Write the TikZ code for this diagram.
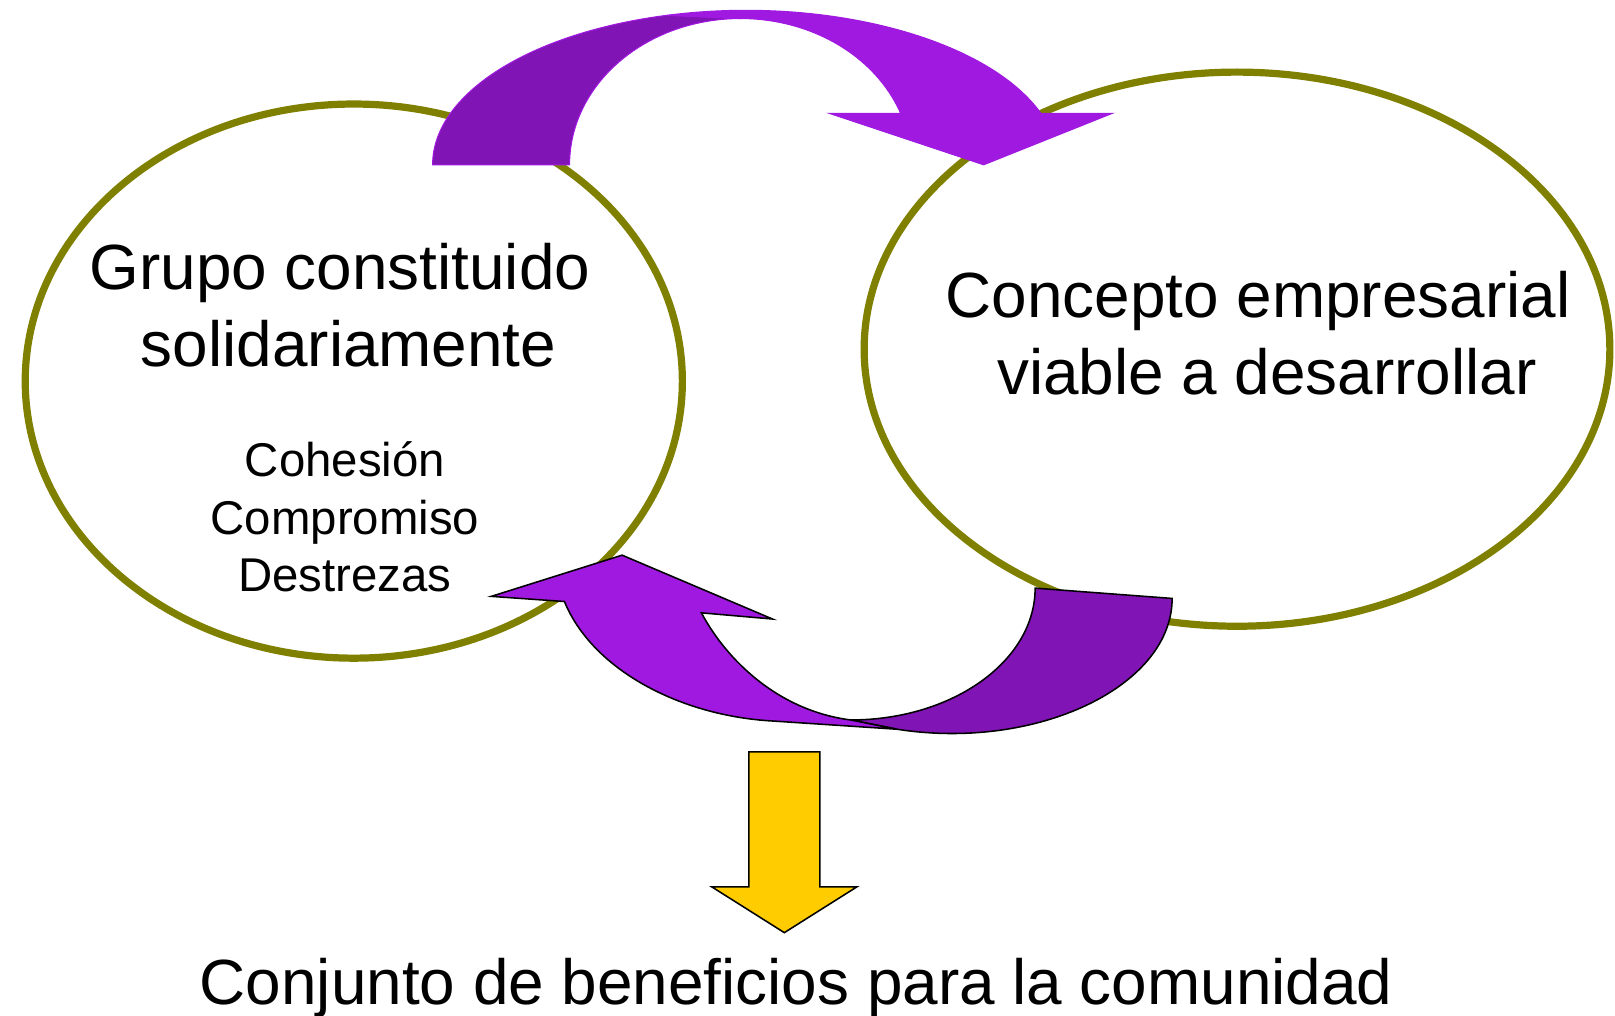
\documentclass[tikz,border=0pt]{standalone}
\usepackage{fontspec}
\setmainfont{Liberation Sans}
\usepackage{xcolor}
\usetikzlibrary{shapes.geometric, positioning}

\definecolor{ringolive}{RGB}{128,128,0}
\definecolor{violetlight}{RGB}{160,25,224}
\definecolor{violetdark}{RGB}{128,20,180}
\definecolor{arrowgold}{RGB}{255,204,0}

\tikzset{
    ring/.style={ellipse, draw=ringolive, line width=7pt, inner sep=0pt},
    bigtext/.style={font=\fontsize{62}{75}\selectfont, align=center, anchor=base, inner sep=0pt},
    smalltext/.style={font=\fontsize{46}{55.5}\selectfont, align=center, anchor=base, inner sep=0pt},
    topback/.style={fill=violetdark, draw=violetlight, line width=1pt},
    topfront/.style={fill=violetlight, draw=violetlight, line width=1pt},
    lowback/.style={fill=violetdark, draw=black, line width=1.5pt},
    lowfront/.style={fill=violetlight, draw=black, line width=1.5pt},
}

\begin{document}
\begin{tikzpicture}[x=1pt, y=-1pt]
    \fill[white] (0,0) rectangle (1568,986);
    \useasboundingbox (0,0) rectangle (1568,986);

    \node[ring, minimum width=638pt, minimum height=538pt] (grupo) at (343.5,370) {};
    \node[ring, minimum width=724pt, minimum height=538pt] (concepto) at (1201,339) {};

    \node[bigtext] (grupotext) at (338.5,356) {Grupo constituido\kern17pt\\solidariamente};
    \node[smalltext] (valores) at (335,574) {Cohesión\\Compromiso\\Destrezas};
    \node[bigtext] (conceptotext) at (1230,383) {Concepto empresarial\kern17pt\\viable a desarrollar};

    \path[topback] (420,160) .. controls (420,91.6) and (513.7,31.9) .. (647.9,14.8) -- (719,18) .. controls (627.3,18) and (553,81.6) .. (553,160) -- cycle;
    \path[topfront] (647.9,14.8) .. controls (800.6,-4.7) and (958,36.6) .. (1010.6,110) -- (1080,110) -- (955,160) -- (805,110) -- (874.4,110) .. controls (850.1,54.6) and (788.1,18) .. (719,18) -- cycle;

    \path[lowback] (1005,571) -- (1138,581) .. controls (1138,666.5) and (1006.3,729.2) .. (871,708) -- (826,699) .. controls (924.9,699) and (1005,641.7) .. (1005,571) -- cycle;
    \path[lowfront] (826,699) .. controls (755,690) and (705,640) .. (681,595) -- (750,601) -- (604,539) -- (477,579) -- (548,584) .. controls (575,650) and (660,695) .. (750,700) -- (871,708) -- cycle;

    \path[fill=arrowgold, draw=black, line width=1.5pt] (727,730) -- (796,730) -- (796,861) -- (832,861) -- (761.5,905.5) -- (691,861) -- (727,861) -- cycle;

    \node[bigtext] (beneficios) at (773,975) {Conjunto de beneficios para la comunidad};
\end{tikzpicture}
\end{document}
